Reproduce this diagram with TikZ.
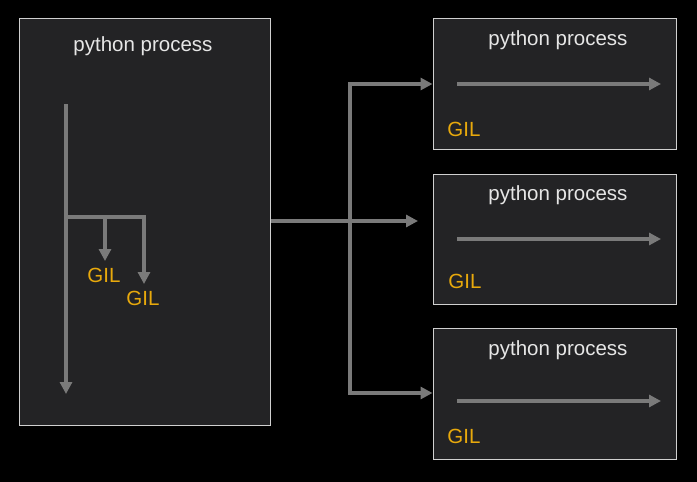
\documentclass[tikz,border=0pt]{standalone}
\usepackage{fontspec}
\setmainfont{Liberation Sans}
\usetikzlibrary{arrows.meta}
\definecolor{bg}{HTML}{000000}
\definecolor{boxfill}{HTML}{232325}
\definecolor{boxline}{HTML}{D0D0D0}
\definecolor{arr}{HTML}{7A7A7A}
\definecolor{gil}{HTML}{E8A90C}
\definecolor{ttl}{HTML}{E6E6E6}
\tikzset{
  proc/.style={draw=boxline, line width=1pt, fill=boxfill, inner sep=0pt},
  ttlt/.style={text=ttl, font=\fontsize{20.5}{24}\selectfont, inner sep=0pt, anchor=center},
  giltxt/.style={text=gil, font=\fontsize{20.5}{24}\selectfont, inner sep=0pt, anchor=center},
  flow/.style={draw=arr, line width=3.2pt, line join=miter, -{Triangle[length=12pt,width=12pt]}},
}
\begin{document}
\begin{tikzpicture}[x=1pt,y=-1pt]
\fill[bg] (0,0) rectangle (697,482);
\useasboundingbox (0,0) rectangle (697,482);
% left box
\node[proc, minimum width=251pt, minimum height=407pt] (L) at (144.5,221.5) {};
\node[ttlt] (Lt) at (143,46.5) {python process};
\coordinate (m0) at (66,104);
\coordinate (m1) at (66,394);
\coordinate (b0) at (66,217);
\coordinate (b1) at (105,217);
\coordinate (g1a) at (105,261);
\coordinate (g2a) at (144,284);
\draw[flow] (m0) -- (m1);
\draw[flow] (b0) -| (g2a);
\draw[flow] (b1) -- (g1a);
\node[giltxt] (g1) at (104,275) {GIL};
\node[giltxt] (g2) at (143,298) {GIL};
% right boxes
\node[proc, minimum width=243pt, minimum height=131pt] (R1) at (554.5,83.5) {};
\node[proc, minimum width=243pt, minimum height=130pt] (R2) at (554.5,239) {};
\node[proc, minimum width=243pt, minimum height=131pt] (R3) at (554.5,393.5) {};
\node[ttlt] (R1t) at (558,40.5) {python process};
\node[ttlt] (R2t) at (558,195.5) {python process};
\node[ttlt] (R3t) at (558,350.5) {python process};
\coordinate (r1a) at (457,84); \coordinate (r1b) at (661,84);
\coordinate (r2a) at (457,239); \coordinate (r2b) at (661,239);
\coordinate (r3a) at (457,401); \coordinate (r3b) at (661,401);
\draw[flow] (r1a) -- (r1b);
\draw[flow] (r2a) -- (r2b);
\draw[flow] (r3a) -- (r3b);
\node[giltxt] (R1g) at (464,129) {GIL};
\node[giltxt] (R2g) at (465,281) {GIL};
\node[giltxt] (R3g) at (464,436) {GIL};
% connectors
\coordinate (c0) at (L.east |- 0,221);
\coordinate (cm) at (418,221);
\coordinate (v1) at (350,84);
\coordinate (v3) at (350,393);
\draw[flow] (c0) -- (cm);
\draw[flow] (v3) -- (v1) -- (R1.west |- v1);
\draw[flow] (v1) -- (v3) -- (R3.west |- v3);
\end{tikzpicture}
\end{document}
